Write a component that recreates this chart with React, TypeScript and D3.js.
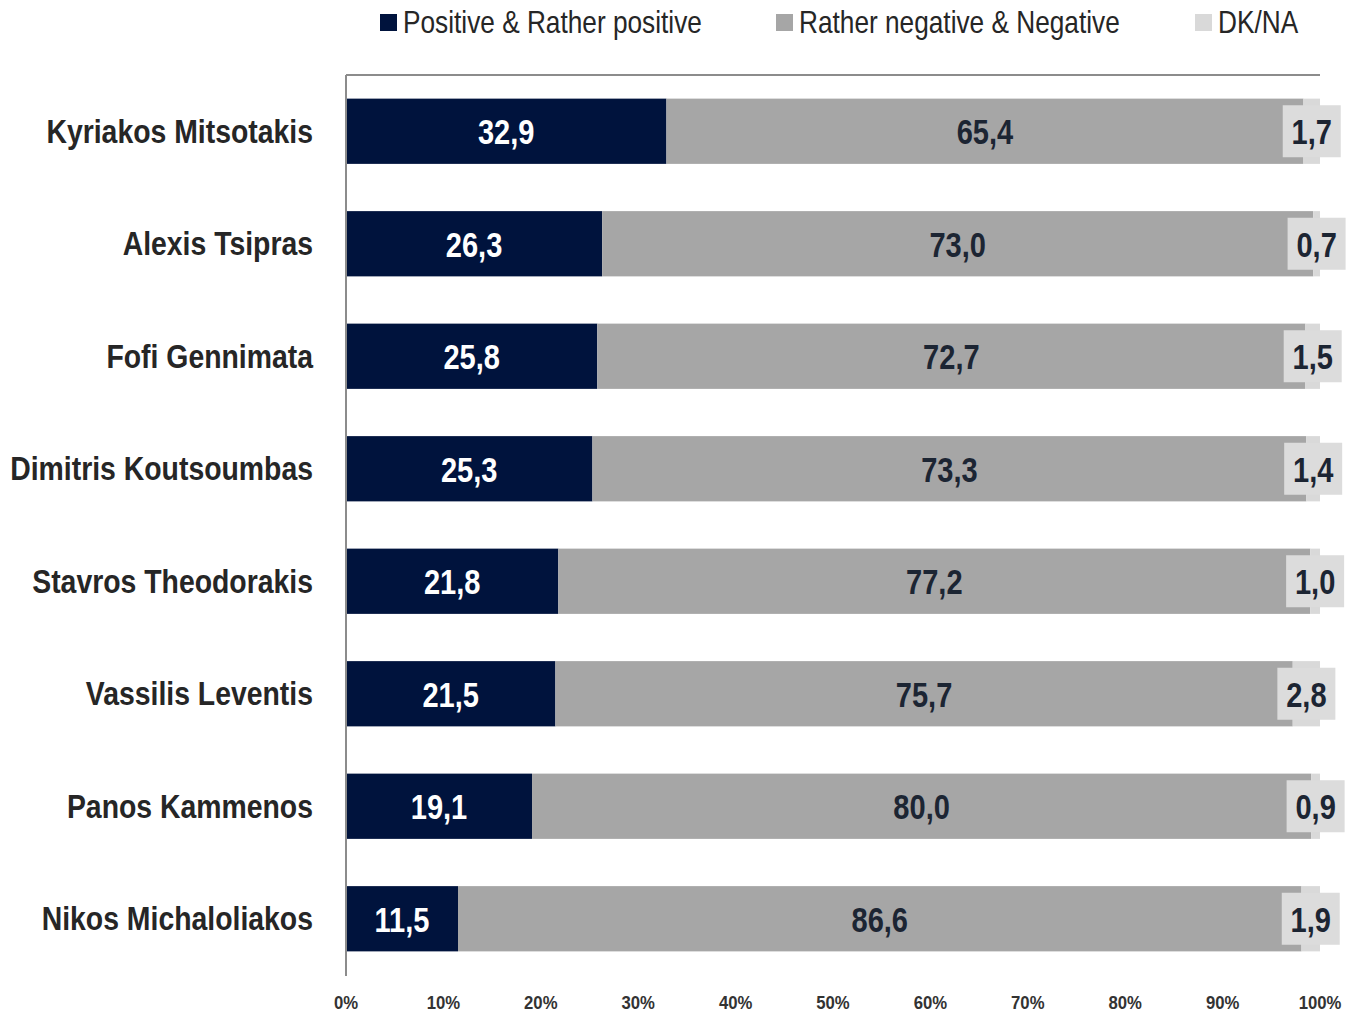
import React from "react";
import * as d3 from "d3";

const categories = [
  "Kyriakos Mitsotakis",
  "Alexis Tsipras",
  "Fofi Gennimata",
  "Dimitris Koutsoumbas",
  "Stavros Theodorakis",
  "Vassilis Leventis",
  "Panos Kammenos",
  "Nikos Michaloliakos",
];
const positive = [32.9, 26.3, 25.8, 25.3, 21.8, 21.5, 19.1, 11.5];
const negative = [65.4, 73.0, 72.7, 73.3, 77.2, 75.7, 80.0, 86.6];
const dkna = [1.7, 0.7, 1.5, 1.4, 1.0, 2.8, 0.9, 1.9];
const seriesNames = ["Positive & Rather positive", "Rather negative & Negative", "DK/NA"];
const tickValues = [0, 10, 20, 30, 40, 50, 60, 70, 80, 90, 100];

const W = 1347;
const H = 1013;
const colors = ["#00133d", "#a6a6a6", "#d9d9d9"];
const FONT = "'Liberation Sans', Arial, sans-serif";

type NT = {
  x: number;
  y: number;
  size: number;
  sx: number;
  anchor?: "start" | "middle" | "end";
  bold?: boolean;
  fill: string;
  children: React.ReactNode;
};

function NarrowText({ x, y, size, sx, anchor = "start", bold = false, fill, children }: NT) {
  return (
    <g transform={`translate(${x},${y}) scale(${sx},1)`}>
      <text
        x={0}
        y={0}
        textAnchor={anchor}
        dominantBaseline="central"
        fontSize={size}
        fontWeight={bold ? "bold" : "normal"}
        fill={fill}
      >
        {children}
      </text>
    </g>
  );
}

export default function App() {
  const x = d3.scaleLinear().domain([0, 100]).range([346, 1320]);
  const y = d3
    .scaleBand<string>()
    .domain(categories)
    .range([75, 975])
    .paddingInner(0.42)
    .paddingOuter(0.21);
  const fmt = (v: number) => v.toFixed(1).replace(".", ",");

  const rows = categories.map((c, i) => {
    const vals = [positive[i], negative[i], dkna[i]];
    let acc = 0;
    const segs = vals.map((v, k) => {
      const s = { k, v, x0: acc, x1: acc + v };
      acc += v;
      return s;
    });
    return { c, segs };
  });

  const legendX = [380, 776, 1195];

  return (
    <svg
      width={W}
      height={H}
      style={{ position: "absolute", left: 0, top: 0, background: "#fff" }}
      fontFamily={FONT}
    >
      {seriesNames.map((n, i) => (
        <g key={n}>
          <rect x={legendX[i]} y={14} width={17} height={17} fill={colors[i]} />
          <NarrowText x={legendX[i] + 23} y={22} size={32} sx={0.82} fill="#262626">
            {n}
          </NarrowText>
        </g>
      ))}
      {rows.map((r) => {
        const y0 = y(r.c)!;
        const bh = y.bandwidth();
        const cy = y0 + bh / 2;
        const dk = r.segs[2];
        const dkCx = (x(dk.x0) + x(dk.x1)) / 2;
        return (
          <g key={r.c}>
            {r.segs.map((s) => (
              <rect
                key={s.k}
                x={x(s.x0)}
                y={y0}
                width={x(s.x1) - x(s.x0)}
                height={bh}
                fill={colors[s.k]}
              />
            ))}
            {r.segs.slice(0, 2).map((s) => (
              <NarrowText
                key={"t" + s.k}
                x={(x(s.x0) + x(s.x1)) / 2}
                y={cy + 1}
                size={35}
                sx={0.83}
                anchor="middle"
                bold
                fill={s.k === 0 ? "#ffffff" : "#1c2533"}
              >
                {fmt(s.v)}
              </NarrowText>
            ))}
            <rect x={dkCx - 29} y={cy - 26} width={58} height={52} fill="#dcdcdc" />
            <NarrowText x={dkCx} y={cy + 1} size={35} sx={0.83} anchor="middle" bold fill="#1c2533">
              {fmt(dk.v)}
            </NarrowText>
            <NarrowText x={313} y={cy} size={34} sx={0.835} anchor="end" bold fill="#262626">
              {r.c}
            </NarrowText>
          </g>
        );
      })}
      <line x1={346} x2={1320} y1={75} y2={75} stroke="#8c8c8c" strokeWidth={2} />
      <line x1={346} x2={346} y1={75} y2={976} stroke="#8c8c8c" strokeWidth={2} />
      {tickValues.map((t) => (
        <NarrowText key={t} x={x(t)} y={1003} size={19} sx={0.88} anchor="middle" bold fill="#333333">
          {t}%
        </NarrowText>
      ))}
    </svg>
  );
}
